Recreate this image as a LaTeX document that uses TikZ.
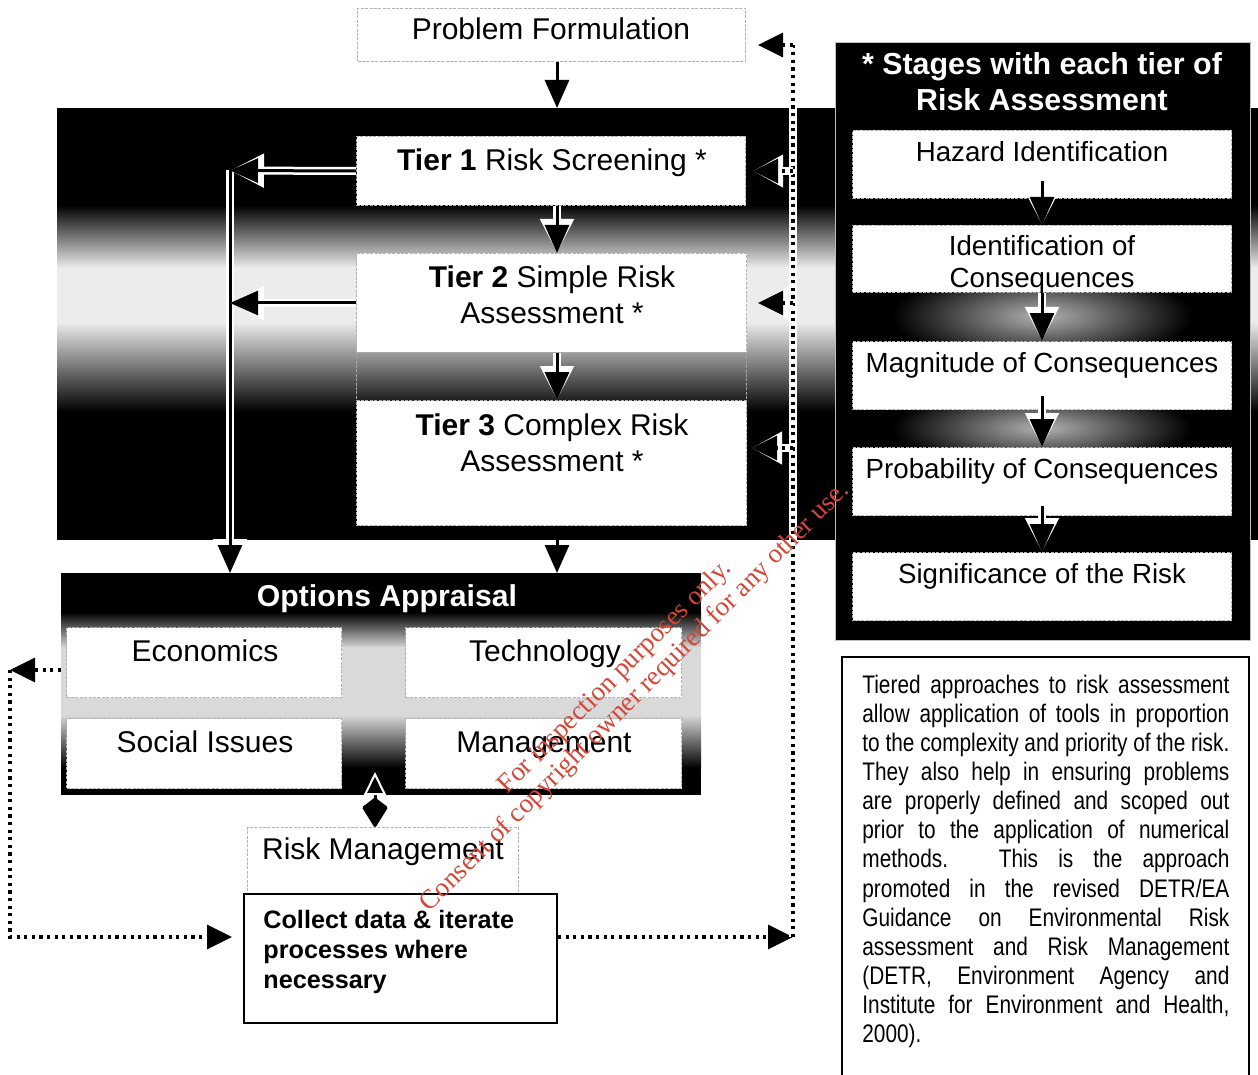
\documentclass[tikz,border=0pt]{standalone}
\usepackage{fontspec}
\setmainfont{Liberation Sans}
\newfontfamily\narrowfont[FakeStretch=0.82]{Liberation Sans}
\newfontfamily\markfont{Liberation Serif}
\usetikzlibrary{arrows.meta,positioning}
\definecolor{markred}{RGB}{214,70,55}

\tikzset{
  box/.style={draw=gray!60, line width=0.5pt, dash pattern=on 1.5pt off 0.7pt, fill=white, inner sep=0pt, anchor=north west},
  darkbox/.style={fill=black, inner sep=0pt, anchor=north west},
  boxtext/.style={font=\fontsize{15}{18}\selectfont, inner sep=0pt},
  stagetext/.style={font=\fontsize{13.85}{16}\selectfont, inner sep=0pt},
  flow/.style={line width=1.5pt, -{Triangle[length=14pt,width=12pt]}},
  haloflow/.style={flow, preaction={draw=white, line width=4pt, -{Triangle[length=17pt,width=16pt]}}},
  dots/.style={line width=1.6pt, dash pattern=on 1.6pt off 2.2pt},
  dothead/.style={-{Triangle[length=12.5pt,width=12pt]}},
  halodots/.style={dots, preaction={draw=white, line width=3.6pt, solid}},
  halodotarrow/.style={dots, dothead, preaction={draw=white, line width=3.6pt, solid, -{Triangle[length=15pt,width=15.5pt]}}},
}

\begin{document}
\begin{tikzpicture}[x=0.5pt, y=-0.5pt]
        % One unit is one pixel of the page
        \useasboundingbox (0,0) rectangle (1258,1075);

        % Dark band behind the tiers, with its light stripe
        \fill[black] (57,108) rectangle (1258,540);
        \shade[top color=black, bottom color=gray!15] (57,205) rectangle (1258,268);
        \fill[gray!15] (57,267) rectangle (1258,323);
        \shade[top color=gray!15, bottom color=black] (57,322) rectangle (1258,412);

        % Problem formulation and the three tiers
        \node[box, minimum width=194pt, minimum height=26.5pt] (pf) at (357,8) {};
        \node[boxtext, anchor=base] (pftxt) at (551,40) {Problem Formulation};
        \node[box, minimum width=194.5pt, minimum height=34.5pt] (t1) at (356,136) {};
        \node[boxtext, anchor=base] (t1txt) at (552,171) {\textbf{Tier 1} Risk Screening *};
        \node[box, minimum width=195pt, minimum height=49.5pt] (t2) at (356,253) {};
        \node[boxtext, anchor=north, align=center] (t2txt) at (552,265.5) {\textbf{Tier 2} Simple Risk\\Assessment *};
        \node[box, fill=none, draw=gray!70, minimum width=195pt, minimum height=24pt] (t2gap) at (356,352) {};
        \node[box, minimum width=195pt, minimum height=62.5pt] (t3) at (356,400) {};
        \node[boxtext, anchor=north, align=center] (t3txt) at (552,413.5) {\textbf{Tier 3} Complex Risk\\Assessment *};

        % Options appraisal block
        \node[darkbox, minimum width=320pt, minimum height=111pt] (oa) at (61,573) {};
        \shade[top color=black, bottom color=gray!30] (61,612) rectangle (701,648);
        \fill[gray!30] (61,647) rectangle (701,716);
        \shade[top color=gray!30, bottom color=black] (61,715) rectangle (701,768);
        \node[font=\bfseries\fontsize{15.1}{18}\selectfont, text=white, inner sep=0pt, anchor=base] (oatxt) at (387,606) {Options Appraisal};
        \node[box, minimum width=137.5pt, minimum height=35pt] (econ) at (66,627) {};
        \node[box, minimum width=138pt, minimum height=35pt] (tech) at (405,627) {};
        \node[box, minimum width=137.5pt, minimum height=35pt] (soc) at (66,718) {};
        \node[box, minimum width=138pt, minimum height=35pt] (mgmt) at (405,718) {};
        \node[boxtext, anchor=base] (econtxt) at (205,661) {Economics};
        \node[boxtext, anchor=base] (techtxt) at (545,661) {Technology};
        \node[boxtext, anchor=base] (soctxt) at (205,752) {Social Issues};
        \node[boxtext, anchor=base] (mgmttxt) at (544,752) {Management};

        % Risk management and data collection
        \node[box, minimum width=135.5pt, minimum height=33pt] (rm) at (247,827) {};
        \node[boxtext, anchor=base] (rmtxt) at (383,859) {Risk Management};
        \node[box, draw=black, solid, line width=1pt, minimum width=156.5pt, minimum height=64.5pt] (collect) at (243,893) {};
        \node[font=\bfseries\fontsize{12.6}{15}\selectfont, inner sep=0pt, anchor=north west, align=left] (coltxt) at (263,910) {Collect data \& iterate\\processes where\\necessary};

        % Panel with the stages of each tier
        \node[darkbox, draw=gray!50, line width=0.5pt, minimum width=207.5pt, minimum height=299pt] (stages) at (835,42) {};
        \shade[inner color=gray!60, outer color=black] (1042,316) ellipse (150 and 48);
        \shade[inner color=gray!60, outer color=black] (1042,428) ellipse (150 and 40);
        \node[font=\bfseries\fontsize{15.2}{18}\selectfont, text=white, inner sep=0pt, anchor=north, align=center] (stagetitle) at (1042,52) {* Stages with each tier of\\Risk Assessment};
        \node[box, minimum width=189.5pt, minimum height=34pt] (s1) at (852,130) {};
        \node[box, minimum width=189.5pt, minimum height=33.5pt] (s2) at (852,225) {};
        \node[box, minimum width=189.5pt, minimum height=34pt] (s3) at (852,341) {};
        \node[box, minimum width=189.5pt, minimum height=34pt] (s4) at (852,447) {};
        \node[box, minimum width=189.5pt, minimum height=34pt] (s5) at (852,552) {};
        \node[stagetext, anchor=base] (s1txt) at (1042,162) {Hazard Identification};
        \node[stagetext, anchor=north, align=center] (s2txt) at (1042,235.5) {Identification of\\Consequences};
        \node[stagetext, anchor=base] (s3txt) at (1042,372) {Magnitude of Consequences};
        \node[stagetext, anchor=base] (s4txt) at (1042,478) {Probability of Consequences};
        \node[stagetext, anchor=base] (s5txt) at (1042,583) {Significance of the Risk};

        % Note box, open at the bottom
        \draw[line width=0.8pt] (842,1090) |- (1249,657) -- (1249,1090);
        \node[font=\narrowfont\fontsize{12.7}{14.55}\selectfont, inner sep=0pt, anchor=north west, text width=183.5pt, align=justify] (note) at (862,674.5) {Tiered approaches to risk assessment\linebreak allow application of tools in proportion\linebreak to the complexity and priority of the risk.\linebreak They also help in ensuring problems\linebreak are properly defined and scoped out\linebreak prior to the application of numerical\linebreak methods. This is the approach\linebreak promoted in the revised DETR/EA\linebreak Guidance on Environmental Risk\linebreak assessment and Risk Management\linebreak (DETR, Environment Agency and\linebreak Institute for Environment and Health,\linebreak 2000).};

        % Main flow down the tiers
        \coordinate (axis) at (557,108);
        \draw[flow] (axis |- pf.south) -- (axis);
        \draw[haloflow] (axis |- t1.south) -- (axis |- t2.north);
        \draw[haloflow] (axis |- t2.south) -- (axis |- t3.north);
        \draw[flow] (axis |- t3.south) -- (axis |- oa.north);

        % Exits from the tiers to options appraisal
        \coordinate (lcol) at (230,170.5);
        \draw[haloflow] (lcol) -- (lcol |- oa.north);
        \draw[haloflow] (t1.west) -- (lcol);
        \draw[haloflow] (t2.west) -- (lcol |- t2.west);

        % Risk management linked both ways to options appraisal
        \coordinate (oatip) at (375,772);
        \draw[line width=1.5pt, {Triangle[open, color=white, length=11.5pt, width=11pt, line width=1pt]}-{Kite[length=15.5pt, width=13pt, inset=5pt, round]}] (oatip) -- (oatip |- rm.north);

        % Feedback loops from data collection
        \coordinate (fbbot) at (793,937);
        \coordinate (fbtop) at (793,45);
        \coordinate (t3in) at (746,448);
        \draw[dots, dothead] (collect.east |- fbbot) -- (fbbot);
        \draw[halodots] (fbbot) -- (fbtop);
        \draw[halodotarrow, shorten >=6pt] (fbtop) -- (pf.east |- fbtop);
        \draw[halodotarrow, shorten >=3.5pt] (fbtop |- t1.east) -- (t1.east);
        \draw[halodotarrow, shorten >=5.5pt] (fbtop |- t2.east) -- (t2.east);
        \draw[halodotarrow, shorten >=3pt] (fbtop |- t3in) -- (t3in);
        \coordinate (fbleft) at (10,670);
        \draw[dots, dothead] (oa.west |- fbleft) -- (fbleft);
        \draw[dots, dothead, shorten >=5.5pt] (fbleft) |- (collect.west |- fbbot);

        % Steps inside the stages panel
        \draw[haloflow] ([yshift=9pt]s1.south) -- (s2.north);
        \draw[haloflow] (s2.south) -- (s3.north);
        \draw[haloflow] ([yshift=7pt]s3.south) -- (s4.north);
        \draw[haloflow] ([yshift=5pt]s4.south) -- (s5.north);

        % Watermark across the lower part
        \node[font=\markfont\fontsize{13.5}{14}\selectfont, text=markred, rotate=45, align=center, inner sep=0pt] (wmark) at (625.5,687.5) {For inspection purposes only.\\Consent of copyright owner required for any other use.};
    \end{tikzpicture}
\end{document}
